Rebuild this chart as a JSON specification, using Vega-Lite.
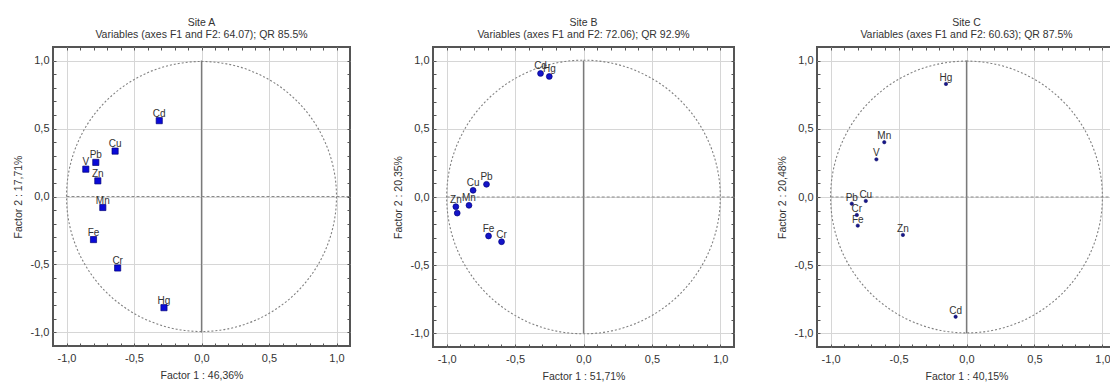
{
  "$schema": "https://vega.github.io/schema/vega-lite/v6.json",
  "padding": {"left": 12, "top": 17, "right": 0, "bottom": 0},
  "background": "white",
  "spacing": 40,
  "datasets": {
    "siteA": [
      {"element": "Cd", "f1": -0.313, "f2": 0.558},
      {"element": "Cu", "f1": -0.640, "f2": 0.334},
      {"element": "Pb", "f1": -0.783, "f2": 0.251},
      {"element": "V", "f1": -0.857, "f2": 0.201},
      {"element": "Zn", "f1": -0.768, "f2": 0.115},
      {"element": "Mn", "f1": -0.731, "f2": -0.081},
      {"element": "Fe", "f1": -0.800, "f2": -0.317},
      {"element": "Cr", "f1": -0.621, "f2": -0.526},
      {"element": "Hg", "f1": -0.278, "f2": -0.818}
    ],
    "siteB": [
      {"element": "Cd", "f1": -0.314, "f2": 0.906},
      {"element": "Hg", "f1": -0.250, "f2": 0.884},
      {"element": "Pb", "f1": -0.709, "f2": 0.093},
      {"element": "Cu", "f1": -0.807, "f2": 0.049},
      {"element": "Zn", "f1": -0.933, "f2": -0.071},
      {"element": "V", "f1": -0.923, "f2": -0.118},
      {"element": "Mn", "f1": -0.837, "f2": -0.061},
      {"element": "Fe", "f1": -0.694, "f2": -0.286},
      {"element": "Cr", "f1": -0.599, "f2": -0.328}
    ],
    "siteC": [
      {"element": "Hg", "f1": -0.151, "f2": 0.829},
      {"element": "Mn", "f1": -0.605, "f2": 0.402},
      {"element": "V", "f1": -0.663, "f2": 0.276},
      {"element": "Pb", "f1": -0.844, "f2": -0.049},
      {"element": "Cu", "f1": -0.741, "f2": -0.029},
      {"element": "Cr", "f1": -0.807, "f2": -0.132},
      {"element": "Fe", "f1": -0.800, "f2": -0.210},
      {"element": "Zn", "f1": -0.468, "f2": -0.278},
      {"element": "Cd", "f1": -0.080, "f2": -0.878}
    ]
  },
  "hconcat": [
    {
      "width": 297,
      "height": 299,
      "title": {"text": ["Site A", "Variables (axes F1 and F2: 64.07); QR 85.5%"]},
      "resolve": {"axis": {"x": "independent", "y": "independent"}},
      "layer": [
        {
          "data": {"values": [{}]},
          "mark": {"type": "rule", "color": "#7a7a7a", "strokeWidth": 1.3},
          "encoding": {
            "x": {"datum": 0, "type": "quantitative", "scale": {"domain": [-1.1, 1.1], "nice": false, "zero": false},
              "axis": {"orient": "bottom", "values": [-1, -0.5, 0, 0.5, 1], "title": "Factor 1 : 46,36%"}},
            "y": {"datum": -1, "type": "quantitative", "scale": {"domain": [-1.1, 1.1], "nice": false, "zero": false},
              "axis": {"orient": "left", "values": [-1, -0.5, 0, 0.5, 1], "title": "Factor 2 : 17,71%"}},
            "y2": {"datum": 1}
          }
        },
        {
          "data": {"values": [{}]},
          "mark": {"type": "rule", "color": "#8a8a8a", "strokeWidth": 1.2, "strokeDash": [3, 2]},
          "encoding": {
            "y": {"datum": 0, "type": "quantitative", "axis": {"orient": "left", "offset": -3, "tickSize": 3, "labels": false, "grid": false, "domain": false, "ticks": true, "title": null, "values": [-1.0, -0.9, -0.8, -0.7, -0.6, -0.5, -0.4, -0.3, -0.2, -0.1, 0, 0.1, 0.2, 0.3, 0.4, 0.5, 0.6, 0.7, 0.8, 0.9, 1.0]}},
            "x": {"datum": -1, "type": "quantitative", "axis": {"orient": "bottom", "offset": -3, "tickSize": 3, "labels": false, "grid": false, "domain": false, "ticks": true, "title": null, "values": [-1.0, -0.9, -0.8, -0.7, -0.6, -0.5, -0.4, -0.3, -0.2, -0.1, 0, 0.1, 0.2, 0.3, 0.4, 0.5, 0.6, 0.7, 0.8, 0.9, 1.0]}},
            "x2": {"datum": 1.1}
          }
        },
        {
          "data": {"values": [{}]},
          "mark": {"type": "arc", "fill": "transparent", "stroke": "#808080", "strokeWidth": 1.1, "strokeDash": [2, 2], "theta": 0, "theta2": 6.2832, "opacity": 1,
            "radius": {"expr": "scale('concat_0_x', 1) - scale('concat_0_x', 0)"}},
          "encoding": {
            "x": {"datum": 0, "type": "quantitative", "axis": {"orient": "top", "offset": -3, "tickSize": 3, "labels": false, "grid": false, "domain": false, "ticks": true, "title": null, "values": [-1.0, -0.9, -0.8, -0.7, -0.6, -0.5, -0.4, -0.3, -0.2, -0.1, 0, 0.1, 0.2, 0.3, 0.4, 0.5, 0.6, 0.7, 0.8, 0.9, 1.0]}},
            "y": {"datum": 0, "type": "quantitative", "axis": {"orient": "right", "offset": -3, "tickSize": 3, "labels": false, "grid": false, "domain": false, "ticks": true, "title": null, "values": [-1.0, -0.9, -0.8, -0.7, -0.6, -0.5, -0.4, -0.3, -0.2, -0.1, 0, 0.1, 0.2, 0.3, 0.4, 0.5, 0.6, 0.7, 0.8, 0.9, 1.0]}}
          }
        },
        {
          "data": {"name": "siteA"},
          "mark": {"type": "text", "font": "Liberation Sans", "fontSize": 10, "fill": "#333333", "baseline": "alphabetic", "align": "center", "dy": -4},
          "encoding": {
            "x": {"field": "f1", "type": "quantitative", "axis": null},
            "y": {"field": "f2", "type": "quantitative", "axis": null},
            "text": {"field": "element"}
          }
        },
        {
          "data": {"name": "siteA"},
          "mark": {"type": "point", "shape": "square", "filled": true, "size": 38, "fill": "#0a0ad8", "stroke": "#00007a", "strokeWidth": 0.7, "opacity": 1},
          "encoding": {
            "x": {"field": "f1", "type": "quantitative", "axis": null},
            "y": {"field": "f2", "type": "quantitative", "axis": null}
          }
        }
      ]
    },
    {
      "width": 301,
      "height": 300,
      "title": {"text": ["Site B", "Variables (axes F1 and F2: 72.06); QR 92.9%"]},
      "resolve": {"axis": {"x": "independent", "y": "independent"}},
      "layer": [
        {
          "data": {"values": [{}]},
          "mark": {"type": "rule", "color": "#7a7a7a", "strokeWidth": 1.3},
          "encoding": {
            "x": {"datum": 0, "type": "quantitative", "scale": {"domain": [-1.1, 1.1], "nice": false, "zero": false},
              "axis": {"orient": "bottom", "values": [-1, -0.5, 0, 0.5, 1], "title": "Factor 1 : 51,71%"}},
            "y": {"datum": -1, "type": "quantitative", "scale": {"domain": [-1.1, 1.1], "nice": false, "zero": false},
              "axis": {"orient": "left", "values": [-1, -0.5, 0, 0.5, 1], "title": "Factor 2 : 20,35%"}},
            "y2": {"datum": 1}
          }
        },
        {
          "data": {"values": [{}]},
          "mark": {"type": "rule", "color": "#8a8a8a", "strokeWidth": 1.2, "strokeDash": [3, 2]},
          "encoding": {
            "y": {"datum": 0, "type": "quantitative", "axis": {"orient": "left", "offset": -3, "tickSize": 3, "labels": false, "grid": false, "domain": false, "ticks": true, "title": null, "values": [-1.0, -0.9, -0.8, -0.7, -0.6, -0.5, -0.4, -0.3, -0.2, -0.1, 0, 0.1, 0.2, 0.3, 0.4, 0.5, 0.6, 0.7, 0.8, 0.9, 1.0]}},
            "x": {"datum": -1, "type": "quantitative", "axis": {"orient": "bottom", "offset": -3, "tickSize": 3, "labels": false, "grid": false, "domain": false, "ticks": true, "title": null, "values": [-1.0, -0.9, -0.8, -0.7, -0.6, -0.5, -0.4, -0.3, -0.2, -0.1, 0, 0.1, 0.2, 0.3, 0.4, 0.5, 0.6, 0.7, 0.8, 0.9, 1.0]}},
            "x2": {"datum": 1.1}
          }
        },
        {
          "data": {"values": [{}]},
          "mark": {"type": "arc", "fill": "transparent", "stroke": "#808080", "strokeWidth": 1.1, "strokeDash": [2, 2], "theta": 0, "theta2": 6.2832, "opacity": 1,
            "radius": {"expr": "scale('concat_1_x', 1) - scale('concat_1_x', 0)"}},
          "encoding": {
            "x": {"datum": 0, "type": "quantitative", "axis": {"orient": "top", "offset": -3, "tickSize": 3, "labels": false, "grid": false, "domain": false, "ticks": true, "title": null, "values": [-1.0, -0.9, -0.8, -0.7, -0.6, -0.5, -0.4, -0.3, -0.2, -0.1, 0, 0.1, 0.2, 0.3, 0.4, 0.5, 0.6, 0.7, 0.8, 0.9, 1.0]}},
            "y": {"datum": 0, "type": "quantitative", "axis": {"orient": "right", "offset": -3, "tickSize": 3, "labels": false, "grid": false, "domain": false, "ticks": true, "title": null, "values": [-1.0, -0.9, -0.8, -0.7, -0.6, -0.5, -0.4, -0.3, -0.2, -0.1, 0, 0.1, 0.2, 0.3, 0.4, 0.5, 0.6, 0.7, 0.8, 0.9, 1.0]}}
          }
        },
        {
          "data": {"name": "siteB"},
          "transform": [{"filter": "datum.element !== 'V'"}],
          "mark": {"type": "text", "font": "Liberation Sans", "fontSize": 10, "fill": "#333333", "baseline": "alphabetic", "align": "center", "dy": -4},
          "encoding": {
            "x": {"field": "f1", "type": "quantitative", "axis": null},
            "y": {"field": "f2", "type": "quantitative", "axis": null},
            "text": {"field": "element"}
          }
        },
        {
          "data": {"name": "siteB"},
          "mark": {"type": "point", "shape": "circle", "filled": true, "size": 34, "fill": "#1414c8", "stroke": "#000080", "strokeWidth": 0.7, "opacity": 1},
          "encoding": {
            "x": {"field": "f1", "type": "quantitative", "axis": null},
            "y": {"field": "f2", "type": "quantitative", "axis": null}
          }
        }
      ]
    },
    {
      "width": 299,
      "height": 300,
      "title": {"text": ["Site C", "Variables (axes F1 and F2: 60.63); QR 87.5%"]},
      "resolve": {"axis": {"x": "independent", "y": "independent"}},
      "layer": [
        {
          "data": {"values": [{}]},
          "mark": {"type": "rule", "color": "#7a7a7a", "strokeWidth": 1.3},
          "encoding": {
            "x": {"datum": 0, "type": "quantitative", "scale": {"domain": [-1.1, 1.1], "nice": false, "zero": false},
              "axis": {"orient": "bottom", "values": [-1, -0.5, 0, 0.5, 1], "title": "Factor 1 : 40,15%"}},
            "y": {"datum": -1, "type": "quantitative", "scale": {"domain": [-1.1, 1.1], "nice": false, "zero": false},
              "axis": {"orient": "left", "values": [-1, -0.5, 0, 0.5, 1], "title": "Factor 2 : 20,48%"}},
            "y2": {"datum": 1}
          }
        },
        {
          "data": {"values": [{}]},
          "mark": {"type": "rule", "color": "#8a8a8a", "strokeWidth": 1.2, "strokeDash": [3, 2]},
          "encoding": {
            "y": {"datum": 0, "type": "quantitative", "axis": {"orient": "left", "offset": -3, "tickSize": 3, "labels": false, "grid": false, "domain": false, "ticks": true, "title": null, "values": [-1.0, -0.9, -0.8, -0.7, -0.6, -0.5, -0.4, -0.3, -0.2, -0.1, 0, 0.1, 0.2, 0.3, 0.4, 0.5, 0.6, 0.7, 0.8, 0.9, 1.0]}},
            "x": {"datum": -1, "type": "quantitative", "axis": {"orient": "bottom", "offset": -3, "tickSize": 3, "labels": false, "grid": false, "domain": false, "ticks": true, "title": null, "values": [-1.0, -0.9, -0.8, -0.7, -0.6, -0.5, -0.4, -0.3, -0.2, -0.1, 0, 0.1, 0.2, 0.3, 0.4, 0.5, 0.6, 0.7, 0.8, 0.9, 1.0]}},
            "x2": {"datum": 1.1}
          }
        },
        {
          "data": {"values": [{}]},
          "mark": {"type": "arc", "fill": "transparent", "stroke": "#808080", "strokeWidth": 1.1, "strokeDash": [2, 2], "theta": 0, "theta2": 6.2832, "opacity": 1,
            "radius": {"expr": "scale('concat_2_x', 1) - scale('concat_2_x', 0)"}},
          "encoding": {
            "x": {"datum": 0, "type": "quantitative", "axis": {"orient": "top", "offset": -3, "tickSize": 3, "labels": false, "grid": false, "domain": false, "ticks": true, "title": null, "values": [-1.0, -0.9, -0.8, -0.7, -0.6, -0.5, -0.4, -0.3, -0.2, -0.1, 0, 0.1, 0.2, 0.3, 0.4, 0.5, 0.6, 0.7, 0.8, 0.9, 1.0]}},
            "y": {"datum": 0, "type": "quantitative", "axis": {"orient": "right", "offset": -3, "tickSize": 3, "labels": false, "grid": false, "domain": false, "ticks": true, "title": null, "values": [-1.0, -0.9, -0.8, -0.7, -0.6, -0.5, -0.4, -0.3, -0.2, -0.1, 0, 0.1, 0.2, 0.3, 0.4, 0.5, 0.6, 0.7, 0.8, 0.9, 1.0]}}
          }
        },
        {
          "data": {"name": "siteC"},
          "mark": {"type": "text", "font": "Liberation Sans", "fontSize": 10, "fill": "#333333", "baseline": "alphabetic", "align": "center", "dy": -3},
          "encoding": {
            "x": {"field": "f1", "type": "quantitative", "axis": null},
            "y": {"field": "f2", "type": "quantitative", "axis": null},
            "text": {"field": "element"}
          }
        },
        {
          "data": {"name": "siteC"},
          "mark": {"type": "point", "shape": "circle", "filled": true, "size": 12, "fill": "#16168c", "stroke": "#0a0a60", "strokeWidth": 0.5, "opacity": 1},
          "encoding": {
            "x": {"field": "f1", "type": "quantitative", "axis": null},
            "y": {"field": "f2", "type": "quantitative", "axis": null}
          }
        }
      ]
    }
  ],
  "config": {
    "font": "Liberation Sans",
    "view": {"stroke": "#555555", "strokeWidth": 2},
    "title": {"font": "Liberation Sans", "fontSize": 10.5, "fontWeight": "normal", "color": "#333333", "offset": 6, "lineHeight": 12, "anchor": "middle"},
    "axis": {
      "labelFont": "Liberation Sans",
      "labelFontSize": 11,
      "labelColor": "#333333",
      "labelPadding": 4,
      "labelExpr": "replace(replace(format(datum.value, '.1f'), '.', ','), '\u2212', '-')",
      "ticks": false,
      "tickColor": "#555555",
      "domain": false,
      "grid": true,
      "gridColor": "#d6d6d6",
      "gridWidth": 1,
      "titleFont": "Liberation Sans",
      "titleFontSize": 10.5,
      "titleFontWeight": "normal",
      "titleColor": "#333333",
      "titlePadding": 7
    },
    "axisX": {"labelPadding": 6}
  }
}
